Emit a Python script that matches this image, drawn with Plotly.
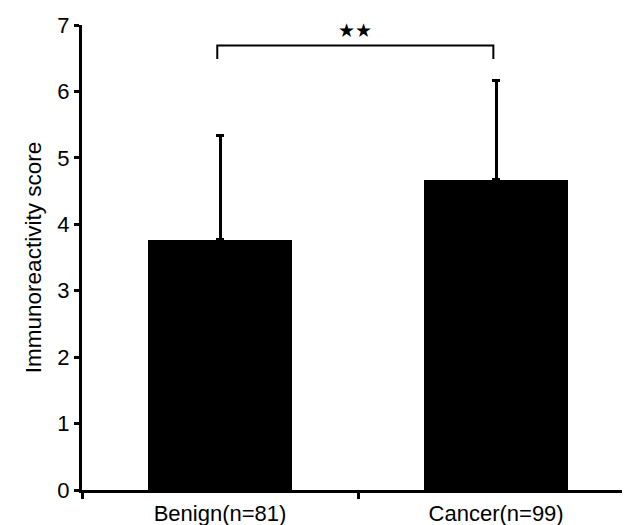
import plotly.graph_objects as go

categories = ["Benign(n=81)", "Cancer(n=99)"]
means = [3.77, 4.67]
sd_upper = [1.57, 1.49]
bracket_low = 6.49
bracket_high = 6.69
sig_label = "★★"
sig_y = 6.93
y_ticks = [0, 1, 2, 3, 4, 5, 6, 7]

fig = go.Figure()
fig.add_trace(go.Bar(
    x=categories, y=means, width=0.52,
    marker=dict(color="black", line=dict(width=0)),
    error_y=dict(type="data", array=sd_upper, arrayminus=[0, 0], symmetric=False,
                 color="black", thickness=3, width=4),
))

# significance bracket
fig.add_shape(type="path", xref="x", yref="y",
              path=f"M -0.01,{bracket_low} L -0.01,{bracket_high} L 0.99,{bracket_high} L 0.99,{bracket_low}",
              line=dict(color="black", width=2))
fig.add_annotation(x=0.49, y=sig_y, xref="x", yref="y", text=sig_label, showarrow=False,
                   font=dict(size=19, color="black", family="DejaVu Sans"))

# page body has an 8px default margin, so the figure is sized to fit the window
fig.update_layout(
    width=622, height=517,
    margin=dict(l=74, r=0, t=17, b=35),
    paper_bgcolor="white", plot_bgcolor="white",
    font=dict(family="Liberation Sans, Arial, sans-serif", color="black", size=22),
    showlegend=False,
    bargap=0,
)
fig.update_xaxes(
    type="category", range=[-0.5, 1.485],
    showline=True, linecolor="black", linewidth=3,
    ticks="outside", tickson="boundaries", ticklen=6, tickwidth=3, tickcolor="black",
    showgrid=False, zeroline=False,
    tickfont=dict(size=22), ticklabelstandoff=2,
)
fig.update_yaxes(
    range=[0, 7], tickvals=y_ticks,
    showline=True, linecolor="black", linewidth=3,
    ticks="outside", ticklen=5, tickwidth=3, tickcolor="black",
    showgrid=False, zeroline=False,
    tickfont=dict(size=22),
    title=dict(text="Immunoreactivity score", font=dict(size=22.5), standoff=10),
)

fig.write_html("out.html")
